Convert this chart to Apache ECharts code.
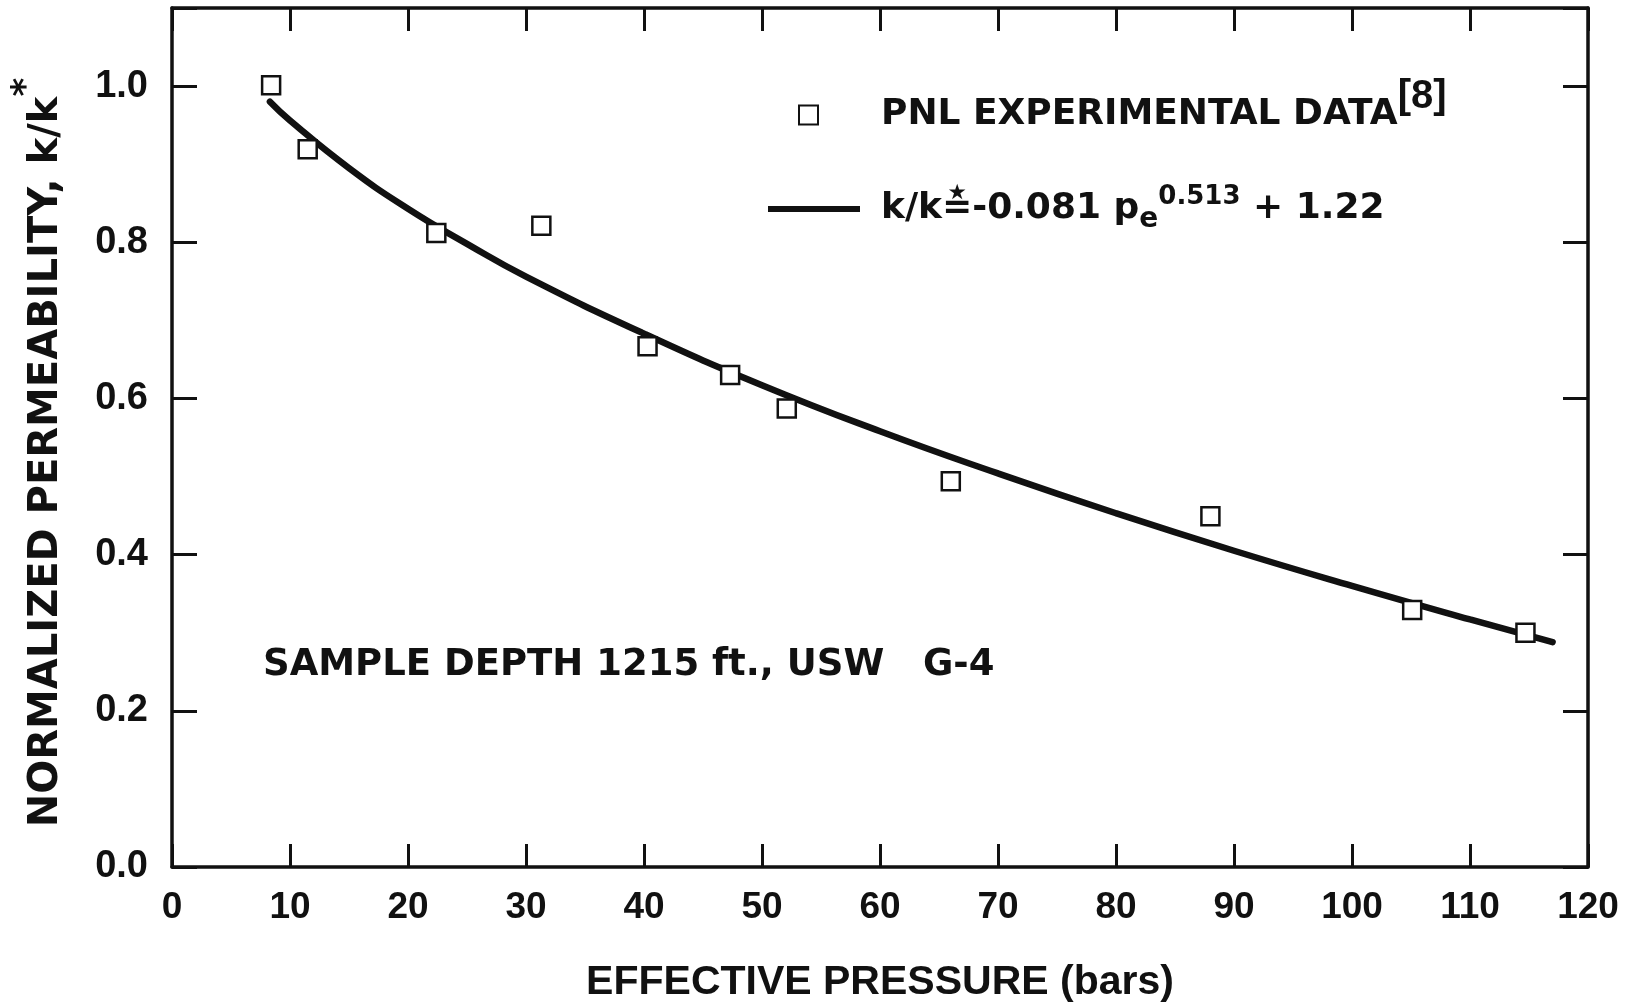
<!DOCTYPE html>
<html>
<head>
<meta charset="utf-8">
<script src="https://cdn.jsdelivr.net/npm/echarts@6/dist/echarts.min.js"></script>
<style>
html,body{margin:0;padding:0;background:#fff;}
#chart{width:1649px;height:1005px;}
</style>
</head>
<body>
<div id="chart"></div>
<script>
// ---- data ----
const pressureData = [8.4, 11.5, 22.4, 31.3, 40.3, 47.3, 52.1, 66.0, 88.0, 105.1, 114.7];
const permeabilityData = [1.001, 0.919, 0.812, 0.821, 0.667, 0.630, 0.587, 0.494, 0.449, 0.329, 0.300];
const curvePressure = [8.3, 10, 15, 20, 25, 30, 40, 50, 60, 70, 80, 90, 100, 110, 117];
const curvePermeability = [0.980, 0.956, 0.895, 0.843, 0.798, 0.756, 0.683, 0.617, 0.558, 0.504, 0.453, 0.405, 0.360, 0.317, 0.288];
const xTickLabels = ['0','10','20','30','40','50','60','70','80','90','100','110','120'];
const yTickLabels = ['0.0','0.2','0.4','0.6','0.8','1.0'];
const seriesNames = ['PNL EXPERIMENTAL DATA', 'k/k*=-0.081 pe^0.513 + 1.22'];
const xAxisTitle = 'EFFECTIVE PRESSURE (bars)';
const yAxisTitle = 'NORMALIZED PERMEABILITY, k/k';
const noteText = 'SAMPLE DEPTH 1215 ft., USW   G-4';

const INK = '#111';
const NUM_FONT = 'Liberation Sans, Arial, sans-serif';
const TXT_FONT = 'DejaVu Sans, sans-serif';

const scatterData = pressureData.map((x, i) => [x, permeabilityData[i]]);
const curveData = curvePressure.map((x, i) => [x, curvePermeability[i]]);

function baseXAxis(pos) {
  return {
    type: 'value', min: 0, max: 120, interval: 10, position: pos,
    axisLine: { show: true, onZero: false, lineStyle: { color: INK, width: 3.5 } },
    axisTick: { show: true, inside: true, length: 23, lineStyle: { color: INK, width: 3 } },
    splitLine: { show: false }
  };
}
function baseYAxis(pos) {
  return {
    type: 'value', min: 0, max: 1.1, interval: 0.2, position: pos,
    axisLine: { show: true, onZero: false, lineStyle: { color: INK, width: 3.5 } },
    axisTick: { show: true, inside: true, length: 25, lineStyle: { color: INK, width: 3 } },
    splitLine: { show: false }
  };
}

const xBottom = Object.assign(baseXAxis('bottom'), {
  axisLabel: {
    show: true, margin: 22, color: INK, fontSize: 37, fontWeight: 'bold', fontFamily: NUM_FONT,
    formatter: v => { const i = Math.round(v / 10); return xTickLabels[i] !== undefined ? xTickLabels[i] : ''; }
  },
  name: xAxisTitle, nameLocation: 'middle', nameGap: 95,
  nameTextStyle: { color: INK, fontSize: 41, fontWeight: 'bold', fontFamily: NUM_FONT }
});
const xTop = Object.assign(baseXAxis('top'), { axisLabel: { show: false } });

const yLeft = Object.assign(baseYAxis('left'), {
  axisLabel: {
    show: true, margin: 24, color: INK, fontSize: 38, fontWeight: 'bold', fontFamily: NUM_FONT,
    formatter: v => { if (v > 1.05) return ''; const i = Math.round(v / 0.2); return yTickLabels[i] !== undefined ? yTickLabels[i] : ''; }
  },
  name: yAxisTitle + '{s|*}', nameLocation: 'middle', nameGap: 101,
  nameTextStyle: {
    color: INK, fontSize: 40, fontWeight: 'bold', fontFamily: TXT_FONT, lineHeight: 48,
    padding: [0, 30, 0, 0],
    rich: { s: { color: INK, fontSize: 36, fontWeight: 'bold', fontFamily: TXT_FONT, lineHeight: 18, verticalAlign: 'bottom', padding: [0, 0, 26, 0] } }
  }
});
const yRight = Object.assign(baseYAxis('right'), { axisLabel: { show: false } });

const richLegend = {
  sp1: { width: 58 },
  sp2: { width: 16 },
  n: { color: INK, fontSize: 36, fontWeight: 'bold', fontFamily: TXT_FONT, lineHeight: 50 },
  ref: { color: INK, fontSize: 40, fontFamily: NUM_FONT, lineHeight: 14, verticalAlign: 'bottom', padding: [0, 0, 23, 0] },
  sub: { color: INK, fontSize: 28, fontWeight: 'bold', fontFamily: TXT_FONT, lineHeight: 26, verticalAlign: 'bottom' },
  sup: { color: INK, fontSize: 26, fontWeight: 'bold', fontFamily: TXT_FONT, lineHeight: 26, verticalAlign: 'top' }
};
const legendText = { color: INK, fontSize: 36, fontWeight: 'bold', fontFamily: TXT_FONT, lineHeight: 50, rich: richLegend };

const option = {
  backgroundColor: '#fff',
  animation: false,
  grid: { left: 172, right: 61, top: 8, bottom: 138, containLabel: false, outerBoundsMode: 'none' },
  title: {
    text: noteText, left: 263, top: 647, padding: 0,
    textStyle: { color: INK, fontSize: 37, fontWeight: 'bold', fontFamily: TXT_FONT }
  },
  legend: [
    {
      orient: 'vertical', left: 798, top: 77, padding: 0,
      itemWidth: 19, itemHeight: 19, selectedMode: false,
      data: [{ name: seriesNames[0], icon: 'rect' }],
      formatter: () => '{sp1| }{n|PNL EXPERIMENTAL DATA}{ref|[8]}',
      textStyle: legendText
    },
    {
      orient: 'vertical', left: 768, top: 184, padding: 0,
      itemWidth: 92, itemHeight: 6, selectedMode: false,
      data: [{ name: seriesNames[1], icon: 'rect', itemStyle: { color: INK, borderWidth: 0 } }],
      formatter: () => '{sp2| }{n|k/k\u225B-0.081 p}{sub|e}{sup|0.513}{n| + 1.22}',
      textStyle: legendText
    }
  ],
  xAxis: [xBottom, xTop],
  yAxis: [yLeft, yRight],
  series: [
    {
      name: seriesNames[0], type: 'scatter', xAxisIndex: 0, yAxisIndex: 0, z: 4,
      symbol: 'rect', symbolSize: 18,
      itemStyle: { color: '#fff', borderColor: INK, borderWidth: 2.5, opacity: 1 },
      data: scatterData
    },
    {
      name: seriesNames[1], type: 'line', xAxisIndex: 0, yAxisIndex: 0, z: 3,
      smooth: true, symbol: 'none', showSymbol: false,
      lineStyle: { color: INK, width: 6.5, cap: 'round' },
      itemStyle: { color: INK },
      data: curveData
    }
  ]
};

const chart = echarts.init(document.getElementById('chart'), null, { renderer: 'canvas' });
chart.setOption(option);
</script>
</body>
</html>
